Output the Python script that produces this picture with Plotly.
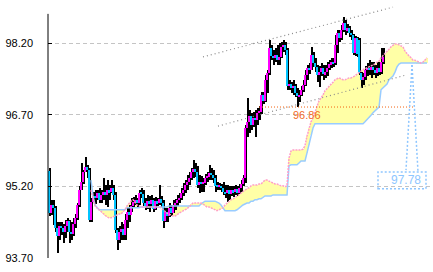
import plotly.graph_objects as go

# ---------------- data ----------------
opens = [95.52, 94.64, 94.81, 94.75, 94.33, 94.16, 94.37, 94.33, 94.25, 94.37,
         94.48, 94.25, 94.20, 94.41, 94.54, 94.81, 95.12, 95.29, 95.50, 95.61,
         95.54, 94.50, 94.87, 95.00, 94.96, 95.06, 94.92, 95.02, 95.08, 95.02,
         95.12, 95.08, 95.17, 95.02, 94.29, 94.08, 94.25, 94.31, 94.18, 94.50,
         94.66, 94.60, 94.79, 94.87, 94.92, 94.85, 95.06, 95.04, 94.85, 94.79,
         94.89, 94.83, 94.92, 94.73, 94.89, 94.85, 94.94, 94.85, 94.48, 94.66,
         94.58, 94.75, 94.64, 94.81, 94.85, 94.92, 94.96, 95.06, 95.12, 95.23,
         95.29, 95.38, 95.50, 95.56, 95.50, 95.23, 95.29, 95.25, 95.27, 95.38,
         95.40, 95.48, 95.44, 95.38, 95.21, 95.19, 95.21, 95.17, 95.08, 95.06,
         95.12, 95.04, 95.12, 95.08, 95.15, 95.06, 95.17, 95.25, 95.38, 96.42,
         96.55, 96.67, 96.48, 96.63, 96.59, 96.74, 96.76, 97.11, 96.99, 97.43,
         97.57, 98.10, 97.93, 97.89, 97.95, 97.84, 97.91, 98.12, 98.16, 98.05,
         97.30, 97.34, 97.26, 97.30, 97.15, 97.09, 97.11, 97.22, 97.32, 97.53,
         97.68, 97.64, 97.95, 97.78, 97.70, 97.53, 97.59, 97.68, 97.55, 97.59,
         97.68, 97.76, 97.80, 97.78, 98.16, 98.41, 98.30, 98.47, 98.62, 98.47,
         98.51, 98.41, 98.37, 97.99, 98.30, 98.26, 97.57, 97.43, 97.49, 97.64,
         97.68, 97.64, 97.70, 97.64, 97.57, 97.68, 97.59, 97.80]
highs = [95.58, 94.92, 94.92, 94.79, 94.46, 94.46, 94.46, 94.41, 94.50, 94.54,
         94.50, 94.46, 94.54, 94.62, 94.85, 95.21, 95.69, 95.54, 95.81, 95.65,
         95.58, 94.96, 95.08, 95.12, 95.12, 95.17, 95.12, 95.38, 95.23, 95.33,
         95.23, 95.33, 95.23, 95.08, 94.33, 94.37, 94.46, 94.41, 94.62, 94.75,
         94.81, 94.96, 94.98, 95.02, 94.96, 95.12, 95.17, 95.12, 94.96, 95.02,
         95.00, 95.02, 94.96, 94.98, 94.96, 95.23, 95.00, 94.92, 94.75, 94.75,
         94.85, 94.81, 94.92, 94.94, 95.02, 95.06, 95.17, 95.27, 95.33, 95.44,
         95.50, 95.58, 95.75, 95.69, 95.63, 95.44, 95.42, 95.38, 95.46, 95.50,
         95.65, 95.58, 95.54, 95.44, 95.29, 95.27, 95.25, 95.29, 95.23, 95.23,
         95.21, 95.21, 95.21, 95.23, 95.21, 95.25, 95.33, 95.44, 96.48, 97.05,
         96.80, 96.74, 96.76, 96.80, 96.84, 96.88, 97.17, 97.17, 97.53, 97.64,
         98.26, 98.16, 98.05, 98.10, 98.16, 98.20, 98.22, 98.26, 98.22, 98.10,
         97.43, 97.38, 97.43, 97.34, 97.26, 97.22, 97.30, 97.43, 97.64, 97.74,
         97.78, 98.12, 98.01, 97.89, 97.74, 97.72, 97.78, 97.74, 97.74, 97.80,
         97.84, 97.89, 97.89, 98.37, 98.47, 98.47, 98.58, 98.74, 98.68, 98.60,
         98.56, 98.47, 98.39, 98.35, 98.33, 98.30, 97.59, 97.57, 97.72, 97.78,
         97.84, 97.80, 97.80, 97.74, 97.80, 97.80, 98.10, 98.10]
lows = [94.58, 94.60, 94.39, 94.25, 93.81, 94.08, 94.18, 94.02, 94.12, 94.25,
        94.02, 94.08, 94.16, 94.33, 94.50, 94.77, 95.12, 95.25, 95.50, 95.38,
        94.46, 94.46, 94.87, 94.83, 94.92, 94.85, 94.85, 94.92, 94.81, 94.77,
        94.92, 95.06, 94.92, 94.22, 93.87, 94.02, 94.08, 94.08, 94.08, 94.33,
        94.46, 94.66, 94.75, 94.81, 94.77, 94.81, 94.96, 94.79, 94.71, 94.73,
        94.66, 94.77, 94.66, 94.71, 94.79, 94.81, 94.77, 94.33, 94.46, 94.46,
        94.56, 94.58, 94.64, 94.71, 94.79, 94.85, 94.92, 95.00, 95.06, 95.12,
        95.23, 95.33, 95.38, 95.40, 95.17, 95.06, 95.08, 95.08, 95.23, 95.29,
        95.33, 95.33, 95.27, 95.08, 95.12, 95.12, 95.08, 95.02, 94.96, 94.87,
        94.92, 95.00, 94.98, 95.02, 95.00, 95.04, 95.08, 95.21, 95.27, 96.23,
        96.32, 96.38, 96.44, 96.23, 96.48, 96.59, 96.71, 96.92, 96.97, 97.15,
        97.53, 97.84, 97.74, 97.80, 97.74, 97.74, 97.89, 98.01, 97.95, 97.22,
        97.22, 97.15, 97.11, 97.07, 96.86, 96.97, 97.09, 97.17, 97.30, 97.43,
        97.55, 97.64, 97.70, 97.59, 97.38, 97.28, 97.51, 97.43, 97.47, 97.51,
        97.64, 97.68, 97.70, 97.74, 97.99, 98.22, 98.26, 98.43, 98.37, 98.41,
        98.33, 98.26, 97.95, 97.93, 97.91, 97.53, 97.26, 97.32, 97.43, 97.51,
        97.53, 97.47, 97.53, 97.47, 97.51, 97.53, 97.55, 97.76]
closes = [94.64, 94.81, 94.75, 94.33, 94.16, 94.37, 94.33, 94.25, 94.37, 94.48,
          94.25, 94.20, 94.41, 94.54, 94.81, 95.12, 95.29, 95.50, 95.61, 95.54,
          94.50, 94.87, 95.00, 94.96, 95.06, 94.92, 95.02, 95.08, 95.02, 95.12,
          95.08, 95.17, 95.02, 94.29, 94.08, 94.25, 94.31, 94.18, 94.50, 94.66,
          94.60, 94.79, 94.87, 94.92, 94.85, 95.06, 95.04, 94.85, 94.79, 94.89,
          94.83, 94.92, 94.73, 94.89, 94.85, 94.94, 94.85, 94.48, 94.66, 94.58,
          94.75, 94.64, 94.81, 94.85, 94.92, 94.96, 95.06, 95.12, 95.23, 95.29,
          95.38, 95.50, 95.56, 95.50, 95.23, 95.29, 95.25, 95.27, 95.38, 95.40,
          95.48, 95.44, 95.38, 95.21, 95.19, 95.21, 95.17, 95.08, 95.06, 95.12,
          95.04, 95.12, 95.08, 95.15, 95.06, 95.17, 95.25, 95.38, 96.42, 96.55,
          96.67, 96.48, 96.63, 96.59, 96.74, 96.76, 97.11, 96.99, 97.43, 97.57,
          98.10, 97.93, 97.89, 97.95, 97.84, 97.91, 98.12, 98.16, 98.05, 97.30,
          97.34, 97.26, 97.30, 97.15, 97.09, 97.11, 97.22, 97.32, 97.53, 97.68,
          97.64, 97.95, 97.78, 97.70, 97.53, 97.59, 97.68, 97.55, 97.59, 97.68,
          97.76, 97.80, 97.78, 98.16, 98.41, 98.30, 98.47, 98.62, 98.47, 98.51,
          98.41, 98.37, 97.99, 98.30, 97.97, 97.57, 97.43, 97.49, 97.64, 97.68,
          97.64, 97.70, 97.64, 97.57, 97.68, 97.59, 97.80, 97.91]

span_start = 21  # period index of the first cloud value
span_a = [95.12, 94.92, 94.79, 94.75, 94.71, 94.66, 94.62, 94.58, 94.56, 94.54,
          94.54, 94.56, 94.58, 94.60, 94.62, 94.62, 94.66, 94.71, 94.79, 94.85,
          94.89, 94.92, 94.87, 94.81, 94.79, 94.77, 94.77, 94.77, 94.77, 94.77,
          94.77, 94.77, 94.77, 94.77, 94.77, 94.75, 94.71, 94.66, 94.64, 94.62,
          94.60, 94.58, 94.58, 94.60, 94.64, 94.66, 94.69, 94.71, 94.73, 94.77,
          94.81, 94.85, 94.85, 94.85, 94.85, 94.85, 94.83, 94.79, 94.77, 94.77,
          94.75, 94.73, 94.71, 94.69, 94.71, 94.73, 94.75, 94.81, 94.85, 94.87,
          94.92, 94.94, 94.96, 95.00, 95.02, 95.06, 95.10, 95.12, 95.15, 95.17,
          95.21, 95.23, 95.23, 95.23, 95.25, 95.25, 95.29, 95.33, 95.33, 95.31,
          95.29, 95.27, 95.25, 95.25, 95.23, 95.21, 95.21, 95.19, 95.21, 95.79,
          95.94, 95.96, 95.96, 95.96, 95.96, 95.96, 95.98, 96.05, 96.25, 96.42,
          96.55, 96.63, 96.76, 96.88, 96.99, 97.05, 97.11, 97.20, 97.24, 97.30,
          97.34, 97.38, 97.43, 97.45, 97.47, 97.45, 97.43, 97.43, 97.45, 97.47,
          97.47, 97.49, 97.51, 97.55, 97.59, 97.61, 97.64, 97.66, 97.68, 97.70,
          97.72, 97.74, 97.76, 97.80, 97.82, 97.89, 97.93, 97.97, 98.03, 98.07,
          98.12, 98.16, 98.18, 98.18, 98.16, 98.14, 98.12, 98.03, 97.97, 97.93,
          97.89, 97.84, 97.84, 97.82, 97.80, 97.78, 97.80, 97.84, 97.89]
span_b = [95.33, 95.00, 94.81, 94.75, 94.71, 94.71, 94.71, 94.71, 94.71, 94.71,
          94.71, 94.71, 94.71, 94.71, 94.71, 94.71, 94.71, 94.71, 94.75, 94.75,
          94.75, 94.75, 94.75, 94.75, 94.75, 94.77, 94.77, 94.77, 94.77, 94.77,
          94.77, 94.77, 94.77, 94.77, 94.77, 94.77, 94.77, 94.77, 94.77, 94.79,
          94.79, 94.79, 94.79, 94.79, 94.79, 94.79, 94.79, 94.79, 94.79, 94.79,
          94.79, 94.79, 94.79, 94.79, 94.79, 94.83, 94.87, 94.89, 94.89, 94.89,
          94.89, 94.89, 94.89, 94.87, 94.85, 94.81, 94.75, 94.69, 94.69, 94.69,
          94.69, 94.69, 94.69, 94.71, 94.75, 94.79, 94.81, 94.83, 94.85, 94.85,
          94.89, 94.89, 94.92, 94.92, 94.94, 94.94, 94.98, 95.00, 95.00, 95.00,
          95.00, 95.02, 95.02, 95.02, 95.02, 95.02, 95.02, 95.02, 95.02, 95.63,
          95.65, 95.65, 95.65, 95.65, 95.69, 95.73, 95.73, 95.73, 95.90, 96.07,
          96.28, 96.42, 96.51, 96.51, 96.51, 96.51, 96.51, 96.51, 96.51, 96.51,
          96.51, 96.51, 96.51, 96.51, 96.51, 96.51, 96.51, 96.51, 96.51, 96.51,
          96.51, 96.51, 96.51, 96.51, 96.51, 96.51, 96.51, 96.55, 96.59, 96.63,
          96.69, 96.74, 96.78, 96.82, 96.86, 97.22, 97.26, 97.30, 97.34, 97.43,
          97.47, 97.51, 97.59, 97.70, 97.76, 97.78, 97.78, 97.78, 97.78, 97.78,
          97.78, 97.78, 97.78, 97.78, 97.78, 97.78, 97.78, 97.78, 97.78]

# trend-line anchors (period index, price)
upper_trend_x = [77, 172]
upper_trend_y = [97.91, 98.95]
lower_trend_x = [84.5, 178.5]
lower_trend_y = [96.46, 97.53]

# horizontal level line
level_price = 96.86
level_x = [105, 182]

# price axis
tick_vals = [93.70, 95.20, 96.70, 98.20]
tick_text = ["93.70", "95.20", "96.70", "98.20"]
y_min, y_max = 93.70, 99.10
axis_top = 98.81

callout_period = 181

# ---------------- figure ----------------
UP = "#FF00FF"
DOWN = "#00C4FF"
n = len(closes)
idx = list(range(n))
cloud_x = list(range(span_start, span_start + len(span_a)))

fig = go.Figure()

# cloud hatching (thin vertical strokes)
fig.add_trace(go.Bar(
    x=cloud_x,
    base=[min(a, b) for a, b in zip(span_a, span_b)],
    y=[abs(a - b) for a, b in zip(span_a, span_b)],
    width=0.42, marker=dict(color="#FFFFA6", line_width=0),
    hoverinfo="skip"))

# wicks (drawn as thin bars so bodies can sit on top)
fig.add_trace(go.Bar(
    x=[i + 0.3 for i in idx], base=lows, y=[h - l for h, l in zip(highs, lows)],
    width=0.45, marker=dict(color="black", line_width=0), hoverinfo="skip"))

# bodies
fig.add_trace(go.Bar(
    x=idx,
    base=[min(o, c) for o, c in zip(opens, closes)],
    y=[max(abs(c - o), 0.025) for o, c in zip(opens, closes)],
    width=1.2,
    marker=dict(color=[UP if c >= o else DOWN for o, c in zip(opens, closes)], line_width=0),
    hoverinfo="skip"))

fig.add_trace(go.Scatter(x=cloud_x, y=span_b, mode="lines",
                         line=dict(color="#99CCFF", width=1.5), hoverinfo="skip"))
fig.add_trace(go.Scatter(x=cloud_x, y=span_a, mode="lines",
                         line=dict(color="#FF9EC8", width=1.5, dash="2px,1px"), hoverinfo="skip"))

# trend lines
fig.add_trace(go.Scatter(x=upper_trend_x, y=upper_trend_y, mode="lines",
                         line=dict(color="#8C8C8C", width=1.2, dash="1px,3px"), hoverinfo="skip"))
fig.add_trace(go.Scatter(x=lower_trend_x, y=lower_trend_y, mode="lines",
                         line=dict(color="#8C8C8C", width=1.2, dash="1px,3px"), hoverinfo="skip"))

# level line
fig.add_trace(go.Scatter(x=level_x, y=[level_price, level_price], mode="lines",
                         line=dict(color="#F26411", width=1, dash="1px,2px"), hoverinfo="skip"))

# annotations
fig.add_annotation(x=129, y=level_price - 0.17, text=f"{level_price:.2f}", showarrow=False,
                   font=dict(family="Liberation Sans, Arial", size=11, color="#F26A1E"))

callout_value = span_b[callout_period - span_start]
BLUE = "#8EC6FF"
fig.add_shape(type="line", x0=callout_period + 0.5, y0=callout_value - 0.04, x1=178.5, y1=95.54,
              line=dict(color=BLUE, width=1.5, dash="2px,2px"))
fig.add_shape(type="line", x0=callout_period + 0.5, y0=callout_value - 0.04, x1=184.5, y1=95.50,
              line=dict(color=BLUE, width=1.5, dash="2px,2px"))
fig.add_shape(type="rect", x0=164.5, x1=188.5, y0=95.15, y1=95.50,
              line=dict(color=BLUE, width=1.5, dash="2px,2px"))
fig.add_annotation(x=187.2, y=95.33, text=f"{callout_value:.2f}", showarrow=False, xanchor="right",
                   font=dict(family="Liberation Sans, Arial", size=12, color=BLUE))

# y axis line
fig.add_shape(type="line", xref="paper", x0=0, x1=0, y0=y_min, y1=axis_top,
              line=dict(color="black", width=1))

fig.update_layout(
    width=433, height=272,
    margin=dict(l=48, r=3, t=0, b=14),
    paper_bgcolor="white", plot_bgcolor="white",
    showlegend=False, barmode="overlay", bargap=0,
    xaxis=dict(range=[-0.5, 190.5], visible=False),
    yaxis=dict(range=[y_min, y_max], tickvals=tick_vals, ticktext=tick_text,
               showgrid=True, gridcolor="#C4C4C4", griddash="4px,3px", gridwidth=1,
               zeroline=False, showline=False,
               ticks="inside", ticklen=4, tickcolor="black", tickwidth=1,
               ticklabelstandoff=14,
               tickfont=dict(family="Liberation Sans, Arial", size=11, color="black")),
)

fig.write_html("out.html")
